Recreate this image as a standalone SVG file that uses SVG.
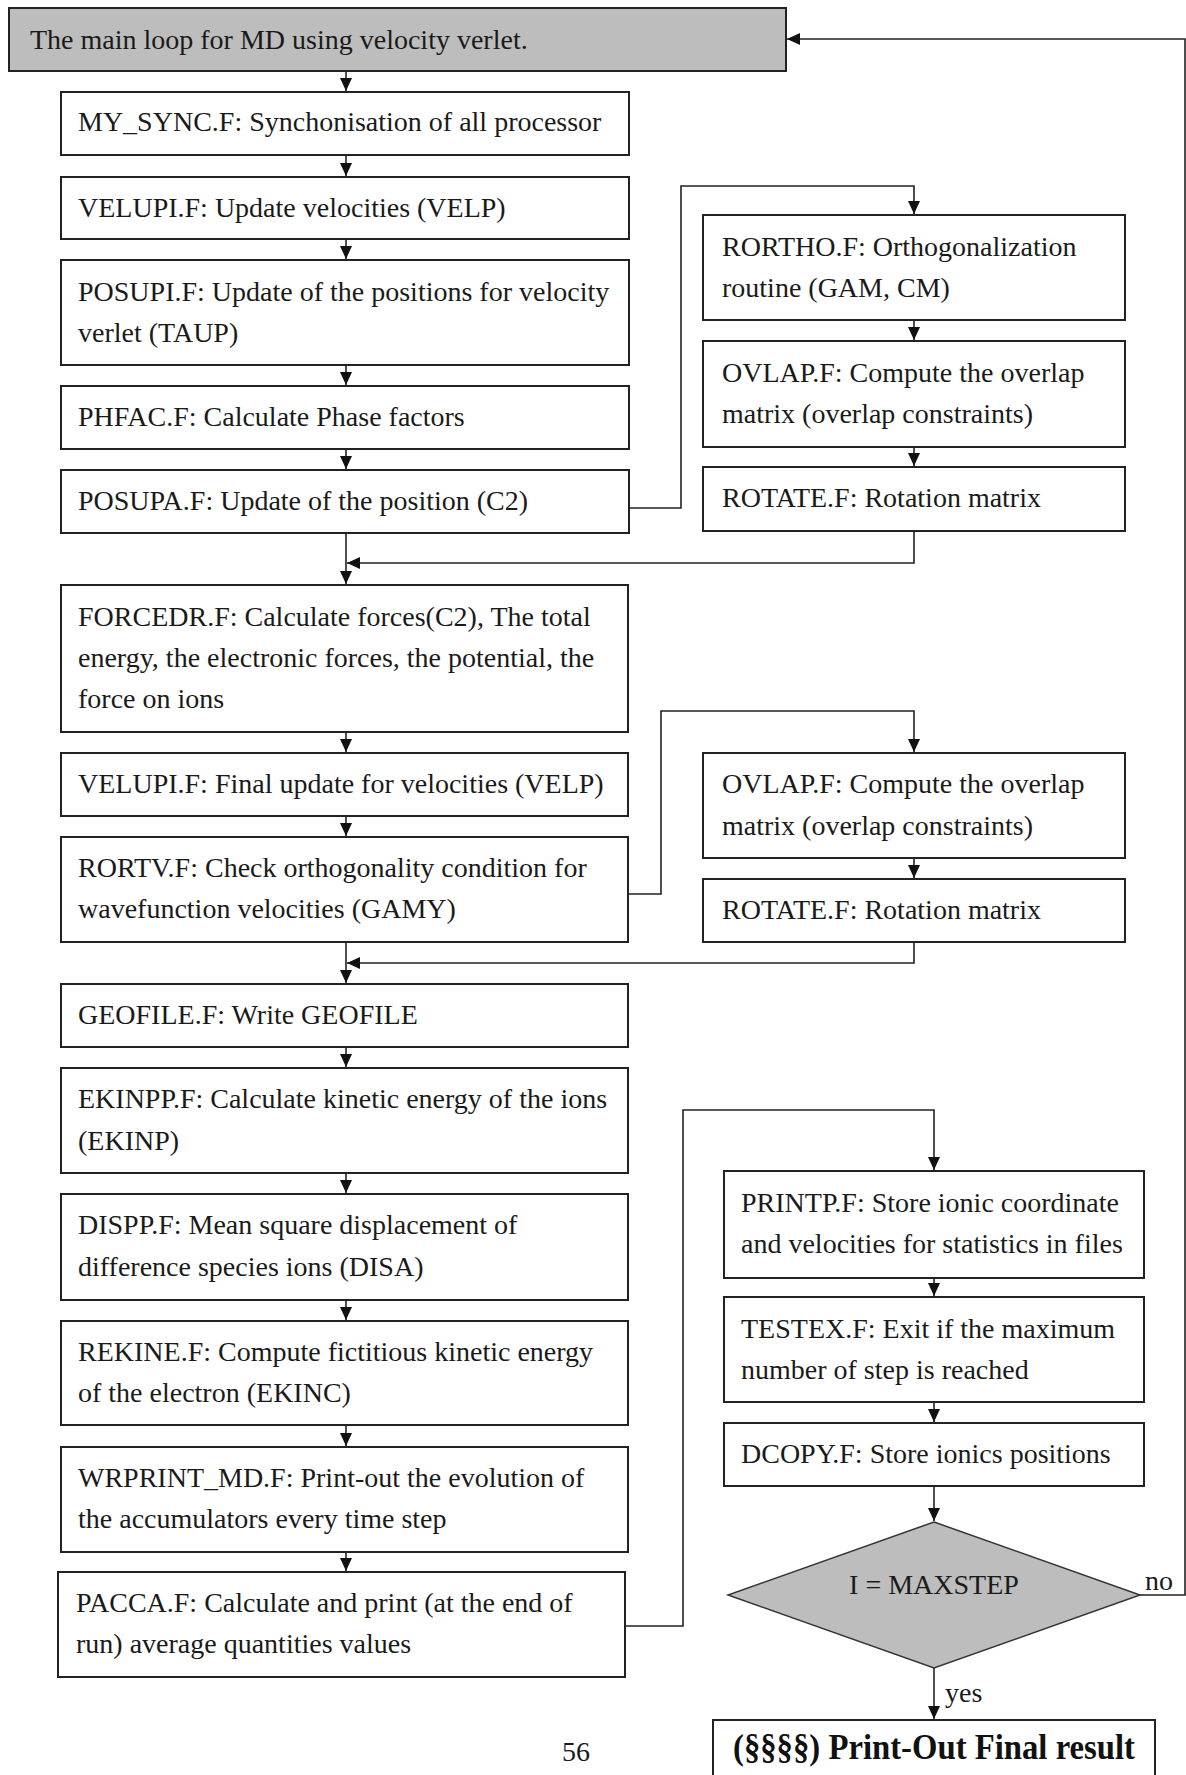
<svg xmlns="http://www.w3.org/2000/svg" width="1186" height="1775" viewBox="0 0 1186 1775">
  <style>
    .box { fill: #ffffff; stroke: #222222; stroke-width: 2; }
    .start { fill: #bdbdbd; stroke: #222222; stroke-width: 2; }
    .decision { fill: #bdbdbd; stroke: #333333; stroke-width: 1.5; }
    .lbl { font-family: "Liberation Serif", "Times New Roman", serif; font-size: 28px; fill: #1a1a1a; }
    .bold { font-family: "Liberation Serif", "Times New Roman", serif; font-size: 35px; font-weight: bold; fill: #111111; }
    .wire { fill: none; stroke: #222222; stroke-width: 1.6; }
  </style>
  <defs>
    <marker id="arrow" markerUnits="userSpaceOnUse" markerWidth="14" markerHeight="12" refX="13" refY="6" orient="auto">
      <path d="M0,0 L13,6 L0,12 Z" fill="#111111"/>
    </marker>
  </defs>
  <rect width="1186" height="1775" fill="#ffffff"/>

  <!-- connectors -->
  <g id="connectors">
    <!-- main column -->
    <line class="wire" x1="346" y1="71" x2="346" y2="91" marker-end="url(#arrow)"/>
    <line class="wire" x1="346" y1="155" x2="346" y2="176" marker-end="url(#arrow)"/>
    <line class="wire" x1="346" y1="239" x2="346" y2="259" marker-end="url(#arrow)"/>
    <line class="wire" x1="346" y1="365" x2="346" y2="385" marker-end="url(#arrow)"/>
    <line class="wire" x1="346" y1="449" x2="346" y2="469" marker-end="url(#arrow)"/>
    <line class="wire" x1="346" y1="533" x2="346" y2="584" marker-end="url(#arrow)"/>
    <line class="wire" x1="346" y1="732" x2="346" y2="752" marker-end="url(#arrow)"/>
    <line class="wire" x1="346" y1="816" x2="346" y2="836" marker-end="url(#arrow)"/>
    <line class="wire" x1="346" y1="942" x2="346" y2="983" marker-end="url(#arrow)"/>
    <line class="wire" x1="346" y1="1047" x2="346" y2="1067" marker-end="url(#arrow)"/>
    <line class="wire" x1="346" y1="1173" x2="346" y2="1193" marker-end="url(#arrow)"/>
    <line class="wire" x1="346" y1="1300" x2="346" y2="1320" marker-end="url(#arrow)"/>
    <line class="wire" x1="346" y1="1425" x2="346" y2="1446" marker-end="url(#arrow)"/>
    <line class="wire" x1="346" y1="1552" x2="346" y2="1571" marker-end="url(#arrow)"/>

    <!-- orthogonalization branch -->
    <polyline class="wire" points="629,508 681,508 681,186 914,186 914,214" marker-end="url(#arrow)"/>
    <line class="wire" x1="914" y1="320" x2="914" y2="340" marker-end="url(#arrow)"/>
    <line class="wire" x1="914" y1="447" x2="914" y2="466" marker-end="url(#arrow)"/>
    <polyline class="wire" points="914,531 914,563 347,563" marker-end="url(#arrow)"/>

    <!-- orthogonality check branch -->
    <polyline class="wire" points="628,894 661,894 661,711 914,711 914,752" marker-end="url(#arrow)"/>
    <line class="wire" x1="914" y1="858" x2="914" y2="878" marker-end="url(#arrow)"/>
    <polyline class="wire" points="914,942 914,963 347,963" marker-end="url(#arrow)"/>

    <!-- statistics branch -->
    <polyline class="wire" points="625,1626 683,1626 683,1110 934,1110 934,1170" marker-end="url(#arrow)"/>
    <line class="wire" x1="934" y1="1278" x2="934" y2="1296" marker-end="url(#arrow)"/>
    <line class="wire" x1="934" y1="1402" x2="934" y2="1422" marker-end="url(#arrow)"/>
    <line class="wire" x1="934" y1="1486" x2="934" y2="1521" marker-end="url(#arrow)"/>

    <!-- loop back / exit -->
    <polyline class="wire" points="1140,1595 1185,1595 1185,39 787,39" marker-end="url(#arrow)"/>
    <line class="wire" x1="934" y1="1668" x2="934" y2="1719" marker-end="url(#arrow)"/>
    <text class="lbl" x="1145" y="1590">no</text>
    <text class="lbl" x="945" y="1702">yes</text>
  </g>

  <!-- main column nodes -->
  <g id="main-loop">
    <rect class="start" x="9" y="8" width="777" height="63"/>
    <text class="lbl" x="30" y="49">The main loop for MD using velocity verlet.</text>
  </g>
  <g id="my-sync">
    <rect class="box" x="61" y="92" width="568" height="63"/>
    <text class="lbl" x="78" y="131">MY_SYNC.F: Synchonisation of all processor</text>
  </g>
  <g id="velupi">
    <rect class="box" x="61" y="177" width="568" height="62"/>
    <text class="lbl" x="78" y="217">VELUPI.F: Update velocities (VELP)</text>
  </g>
  <g id="posupi">
    <rect class="box" x="61" y="260" width="568" height="105"/>
    <text class="lbl" x="78" y="301">POSUPI.F: Update of the positions for velocity</text>
    <text class="lbl" x="78" y="342">verlet (TAUP)</text>
  </g>
  <g id="phfac">
    <rect class="box" x="61" y="386" width="568" height="63"/>
    <text class="lbl" x="78" y="426">PHFAC.F: Calculate Phase factors</text>
  </g>
  <g id="posupa">
    <rect class="box" x="61" y="470" width="568" height="63"/>
    <text class="lbl" x="78" y="510">POSUPA.F: Update of the position (C2)</text>
  </g>
  <g id="forcedr">
    <rect class="box" x="61" y="585" width="567" height="147"/>
    <text class="lbl" x="78" y="626">FORCEDR.F: Calculate forces(C2), The total</text>
    <text class="lbl" x="78" y="667">energy, the electronic forces, the potential, the</text>
    <text class="lbl" x="78" y="708">force on ions</text>
  </g>
  <g id="velupi-final">
    <rect class="box" x="61" y="753" width="567" height="63"/>
    <text class="lbl" x="78" y="793">VELUPI.F: Final update for velocities (VELP)</text>
  </g>
  <g id="rortv">
    <rect class="box" x="61" y="837" width="567" height="105"/>
    <text class="lbl" x="78" y="877">RORTV.F: Check orthogonality condition for</text>
    <text class="lbl" x="78" y="918">wavefunction velocities (GAMY)</text>
  </g>
  <g id="geofile">
    <rect class="box" x="61" y="984" width="567" height="63"/>
    <text class="lbl" x="78" y="1024">GEOFILE.F: Write GEOFILE</text>
  </g>
  <g id="ekinpp">
    <rect class="box" x="61" y="1068" width="567" height="105"/>
    <text class="lbl" x="78" y="1108">EKINPP.F: Calculate kinetic energy of the ions</text>
    <text class="lbl" x="78" y="1150">(EKINP)</text>
  </g>
  <g id="dispp">
    <rect class="box" x="61" y="1194" width="567" height="106"/>
    <text class="lbl" x="78" y="1234">DISPP.F: Mean square displacement of</text>
    <text class="lbl" x="78" y="1276">difference species ions (DISA)</text>
  </g>
  <g id="rekine">
    <rect class="box" x="61" y="1321" width="567" height="104"/>
    <text class="lbl" x="78" y="1361">REKINE.F: Compute fictitious kinetic energy</text>
    <text class="lbl" x="78" y="1402">of the electron (EKINC)</text>
  </g>
  <g id="wrprint-md">
    <rect class="box" x="61" y="1447" width="567" height="105"/>
    <text class="lbl" x="78" y="1487">WRPRINT_MD.F: Print-out the evolution of</text>
    <text class="lbl" x="78" y="1528">the accumulators every time step</text>
  </g>
  <g id="pacca">
    <rect class="box" x="58" y="1572" width="567" height="105"/>
    <text class="lbl" x="76" y="1612">PACCA.F: Calculate and print (at the end of</text>
    <text class="lbl" x="76" y="1653">run) average quantities values</text>
  </g>

  <!-- side branch nodes -->
  <g id="rortho">
    <rect class="box" x="703" y="215" width="422" height="105"/>
    <text class="lbl" x="722" y="256">RORTHO.F: Orthogonalization</text>
    <text class="lbl" x="722" y="297">routine (GAM, CM)</text>
  </g>
  <g id="ovlap-1">
    <rect class="box" x="703" y="341" width="422" height="106"/>
    <text class="lbl" x="722" y="382">OVLAP.F: Compute the overlap</text>
    <text class="lbl" x="722" y="423">matrix (overlap constraints)</text>
  </g>
  <g id="rotate-1">
    <rect class="box" x="703" y="467" width="422" height="64"/>
    <text class="lbl" x="722" y="507">ROTATE.F: Rotation matrix</text>
  </g>
  <g id="ovlap-2">
    <rect class="box" x="703" y="753" width="422" height="105"/>
    <text class="lbl" x="722" y="793">OVLAP.F: Compute the overlap</text>
    <text class="lbl" x="722" y="835">matrix (overlap constraints)</text>
  </g>
  <g id="rotate-2">
    <rect class="box" x="703" y="879" width="422" height="63"/>
    <text class="lbl" x="722" y="919">ROTATE.F: Rotation matrix</text>
  </g>
  <g id="printp">
    <rect class="box" x="724" y="1171" width="420" height="107"/>
    <text class="lbl" x="741" y="1212">PRINTP.F: Store ionic coordinate</text>
    <text class="lbl" x="741" y="1253">and velocities for statistics in files</text>
  </g>
  <g id="testex">
    <rect class="box" x="724" y="1297" width="420" height="105"/>
    <text class="lbl" x="741" y="1338">TESTEX.F: Exit if the maximum</text>
    <text class="lbl" x="741" y="1379">number of step is reached</text>
  </g>
  <g id="dcopy">
    <rect class="box" x="724" y="1423" width="420" height="63"/>
    <text class="lbl" x="741" y="1463">DCOPY.F: Store ionics positions</text>
  </g>
  <g id="maxstep">
    <polygon class="decision" points="934,1522 1140,1595 934,1668 728,1595"/>
    <text class="lbl" x="934" y="1594" text-anchor="middle">I = MAXSTEP</text>
  </g>
  <g id="final-result">
    <rect class="box" x="713" y="1720" width="442" height="70"/>
    <text class="bold" x="733" y="1759" textLength="402" lengthAdjust="spacingAndGlyphs">(§§§§) Print-Out Final result</text>
  </g>

  <!-- page number -->
  <text class="lbl" x="562" y="1761">56</text>
</svg>
